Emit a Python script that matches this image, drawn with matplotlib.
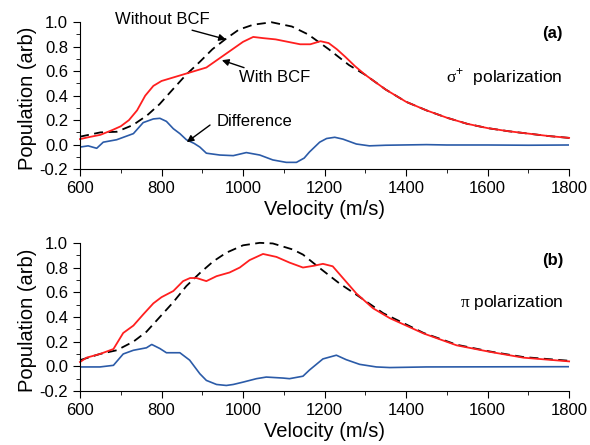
import matplotlib
matplotlib.use("Agg")
import matplotlib.pyplot as plt
from matplotlib.ticker import MultipleLocator

plt.rcParams['font.family'] = ['Liberation Sans', 'DejaVu Sans']
plt.rcParams['mathtext.fontset'] = 'custom'
plt.rcParams['mathtext.rm'] = 'Liberation Serif'
plt.rcParams['mathtext.sf'] = 'Liberation Sans'

# panel (a): sigma+ polarization
vel_a_with = [600, 620, 650, 680, 700, 720, 740, 760, 780, 800, 830, 860, 880, 910, 940,
              970, 1000, 1025, 1050, 1080, 1110, 1140, 1165, 1190, 1210, 1230, 1250, 1275,
              1300, 1350, 1400, 1450, 1500, 1550, 1600, 1650, 1700, 1750, 1800]
with_a = [0.045, 0.06, 0.08, 0.12, 0.15, 0.20, 0.28, 0.40, 0.48, 0.52, 0.55, 0.58, 0.60, 0.63, 0.70,
          0.77, 0.84, 0.88, 0.87, 0.86, 0.84, 0.82, 0.82, 0.845, 0.83, 0.78, 0.72, 0.64,
          0.57, 0.45, 0.35, 0.28, 0.22, 0.17, 0.135, 0.11, 0.09, 0.07, 0.055]

vel_a_without = [600, 650, 690, 730, 765, 795, 830, 860, 895, 925, 960, 990, 1025, 1070, 1120,
                 1160, 1210, 1260, 1300, 1350, 1400, 1450, 1500, 1550, 1600, 1650, 1700, 1750, 1800]
without_a = [0.065, 0.10, 0.105, 0.16, 0.24, 0.33, 0.46, 0.57, 0.68, 0.78, 0.87, 0.94, 0.98, 1.0, 0.965,
             0.90, 0.78, 0.65, 0.57, 0.45, 0.35, 0.28, 0.22, 0.17, 0.135, 0.11, 0.09, 0.07, 0.055]

vel_a_diff = [600, 620, 641, 657, 690, 731, 755, 780, 796, 812, 829, 845, 861, 880, 894, 910,
              943, 976, 1008, 1041, 1073, 1106, 1131, 1150, 1163, 1188, 1205, 1225, 1245, 1278,
              1310, 1350, 1450, 1500, 1600, 1700, 1800]
diff_a = [-0.02, -0.01, -0.03, 0.02, 0.04, 0.09, 0.18, 0.21, 0.215, 0.19, 0.13, 0.09, 0.04, 0.01, -0.02, -0.07,
          -0.085, -0.09, -0.065, -0.085, -0.125, -0.145, -0.145, -0.11, -0.06, 0.02, 0.05, 0.06, 0.045, 0.005,
          -0.01, -0.005, 0.0, -0.003, -0.003, -0.005, -0.003]

# panel (b): pi polarization
vel_b_with = [600, 616, 649, 682, 706, 731, 755, 780, 800, 829, 853, 870, 886, 910, 935, 967,
              992, 1016, 1049, 1082, 1114, 1147, 1175, 1196, 1220, 1245, 1278, 1319, 1360,
              1443, 1524, 1606, 1688, 1800]
with_b = [0.035, 0.07, 0.10, 0.14, 0.27, 0.33, 0.42, 0.51, 0.56, 0.61, 0.69, 0.715, 0.715, 0.69, 0.73, 0.76,
          0.80, 0.86, 0.91, 0.886, 0.84, 0.80, 0.815, 0.83, 0.81, 0.715, 0.59, 0.47, 0.39,
          0.266, 0.17, 0.117, 0.07, 0.04]

vel_b_without = [600, 649, 690, 731, 763, 796, 829, 861, 894, 927, 959, 1000, 1041, 1073, 1122,
                 1147, 1188, 1237, 1278, 1344, 1443, 1524, 1606, 1688, 1800]
without_b = [0.05, 0.10, 0.13, 0.20, 0.28, 0.40, 0.52, 0.65, 0.755, 0.85, 0.92, 0.98, 1.0, 0.995, 0.946,
             0.905, 0.796, 0.67, 0.58, 0.43, 0.27, 0.175, 0.12, 0.075, 0.045]

vel_b_diff = [600, 649, 682, 706, 731, 763, 776, 796, 812, 845, 869, 894, 910, 935, 959, 976,
              1000, 1033, 1057, 1098, 1114, 1147, 1163, 1196, 1229, 1253, 1286, 1327, 1360, 1450, 1800]
diff_b = [-0.005, -0.005, 0.008, 0.10, 0.13, 0.15, 0.177, 0.144, 0.11, 0.11, 0.05, -0.06, -0.114, -0.147, -0.155, -0.147,
          -0.128, -0.10, -0.087, -0.095, -0.10, -0.08, -0.03, 0.06, 0.09, 0.054, 0.016, -0.005, -0.01, -0.005, -0.003]

red = '#ff1f1f'
blue = '#2b5ba8'

fig = plt.figure(figsize=(5.9, 4.45), dpi=100)
ax_a = fig.add_axes([0.1356, 0.620, 0.829, 0.330])
ax_b = fig.add_axes([0.1356, 0.1213, 0.829, 0.333])


def style(ax):
    ax.set_xlim(600, 1800)
    ax.set_ylim(-0.2, 1.0)
    ax.spines['top'].set_visible(False)
    ax.spines['right'].set_visible(False)
    ax.xaxis.set_major_locator(MultipleLocator(200))
    ax.xaxis.set_minor_locator(MultipleLocator(100))
    ax.yaxis.set_minor_locator(MultipleLocator(0.1))
    ax.tick_params(which='major', direction='out', length=5, labelsize=12)
    ax.tick_params(which='minor', direction='out', length=3)
    ax.set_yticks([-0.2, 0.0, 0.2, 0.4, 0.6, 0.8, 1.0])
    ax.set_yticklabels(['-0.2', '0.0', '0.2', '0.4', '0.6', '0.8', '1.0'])
    ax.set_xlabel('Velocity (m/s)', fontsize=14.5, labelpad=3)
    ax.set_ylabel('Population (arb)', fontsize=14.5)
    ax.yaxis.set_label_coords(-0.088, 0.48)


for ax in (ax_a, ax_b):
    style(ax)

ax_a.plot(vel_a_without, without_a, color='black', lw=1.3, ls=(0, (5, 3)), clip_on=False)
ax_a.plot(vel_a_with, with_a, color=red, lw=1.3, clip_on=False)
ax_a.plot(vel_a_diff, diff_a, color=blue, lw=1.2)

ax_b.plot(vel_b_without, without_b, color='black', lw=1.3, ls=(0, (5, 3)), clip_on=False)
ax_b.plot(vel_b_with, with_b, color=red, lw=1.3, clip_on=False)
ax_b.plot(vel_b_diff, diff_b, color=blue, lw=1.2)

arrow = dict(arrowstyle='-|>', color='black', lw=1.0, mutation_scale=10, shrinkA=0, shrinkB=0)
ax_a.text(686, 1.02, 'Without BCF', fontsize=12, ha='left', va='center', clip_on=False)
ax_a.annotate('', xy=(958, 0.86), xytext=(875, 0.935), arrowprops=arrow)
ax_a.annotate('With BCF', xy=(948, 0.69), xytext=(990, 0.545), fontsize=12,
              ha='left', va='center', arrowprops=arrow)
ax_a.annotate('', xy=(862, 0.02), xytext=(919, 0.16), arrowprops=arrow)
ax_a.text(936, 0.19, 'Difference', fontsize=12, ha='left', va='center')

ax_a.text(1785, 0.91, '(a)', fontsize=12, fontweight='bold', ha='right', va='center')
ax_a.text(1785, 0.55, r'$\mathrm{\sigma}^{\mathsf{+}}$  polarization', fontsize=12.5, ha='right', va='center')
ax_b.text(1785, 0.86, '(b)', fontsize=12, fontweight='bold', ha='right', va='center')
ax_b.text(1785, 0.52, r'$\mathrm{\pi}$ polarization', fontsize=12.5, ha='right', va='center')

fig.savefig('out.png', dpi=100)
